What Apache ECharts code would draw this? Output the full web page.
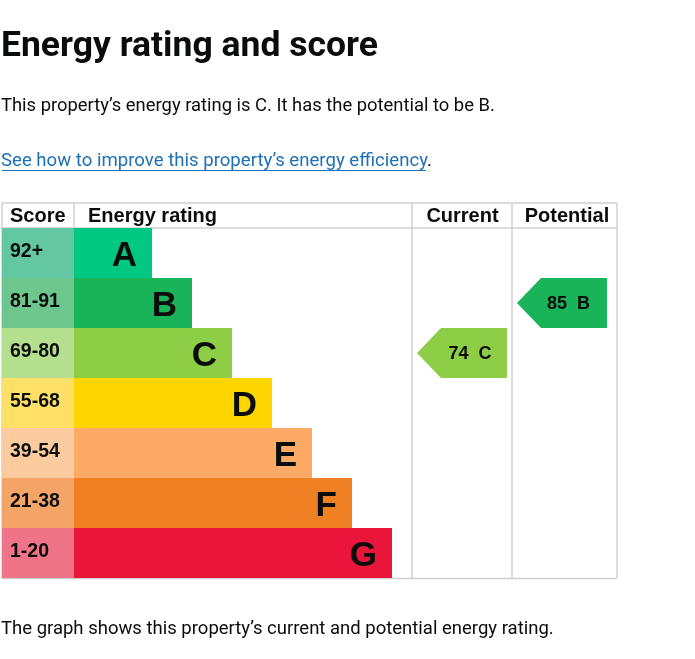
<!DOCTYPE html>
<html><head><meta charset="utf-8">
<script src="https://cdn.jsdelivr.net/npm/echarts@6/dist/echarts.min.js"></script>
<style>html,body{margin:0;padding:0;background:#fff}#c{width:695px;height:659px}</style>
</head><body><div id="c"></div>
<script>
// ---- data ----
const bands = ['A', 'B', 'C', 'D', 'E', 'F', 'G'];
const scoreRanges = ['92+', '81-91', '69-80', '55-68', '39-54', '21-38', '1-20'];
const barLengths = [2, 3, 4, 5, 6, 7, 8];
const currentScore = 74;
const currentBand = 'C';
const potentialScore = 85;
const potentialBand = 'B';
const headers = ['Score', 'Energy rating', 'Current', 'Potential'];

// ---- styles ----
const bandColors = ['#00c781', '#19b459', '#8dce46', '#ffd500', '#fcaa65', '#ef8023', '#e9153b'];
const scoreColors = ['#63c7a3', '#6dc68e', '#b4df8e', '#ffe066', '#fdcba0', '#f4a467', '#f07488'];
const ink = '#0b0c0c';
const linkCol = '#1d70b8';
const lineCol = '#d0d0d0';
const bodyFont = 'Roboto';
const tableFont = '"Liberation Sans", Arial, sans-serif';

const chart = echarts.init(document.getElementById('c'), null, {renderer: 'canvas'});

const gTop = 228, gHeight = 350;
function catY(idx) {
  return {gridIndex: idx, type: 'category', data: bands, inverse: true, show: false};
}
const arrowPath = 'path://M0,25 L24,0 L90,0 L90,50 L24,50 Z';

function line(x1, y1, x2, y2) {
  return {type: 'line', z: 0, shape: {x1, y1, x2, y2}, style: {stroke: lineCol, lineWidth: 1.5}};
}
function txt(x, y, text, font, fill, align) {
  return {type: 'text', z: 10, x, y, style: {text, font, fill: fill || ink, align: align || 'left', verticalAlign: 'middle'}};
}

const option = {
  animation: false,
  backgroundColor: '#fff',
  grid: [
    {left: 2, top: gTop, width: 72, height: gHeight},
    {left: 72, top: gTop, width: 340, height: gHeight},
    {left: 412, top: gTop, width: 100, height: gHeight},
    {left: 512, top: gTop, width: 105, height: gHeight}
  ],
  xAxis: [
    {gridIndex: 0, type: 'value', min: 0, max: 1, show: false},
    {gridIndex: 1, type: 'value', min: 0, max: 8.5, show: false},
    {gridIndex: 2, type: 'category', data: [headers[2]], show: false},
    {gridIndex: 3, type: 'category', data: [headers[3]], show: false}
  ],
  yAxis: [catY(0), catY(1), catY(2), catY(3)],
  series: [
    {
      type: 'bar', xAxisIndex: 0, yAxisIndex: 0, z: 4,
      barWidth: '100%',
      data: scoreRanges.map((r, i) => ({value: 1, itemStyle: {color: scoreColors[i]}})),
      label: {
        show: true, position: 'insideLeft', distance: 8, offset: [0, -1],
        formatter: p => scoreRanges[p.dataIndex],
        fontFamily: tableFont, fontWeight: 'bold', fontSize: 19.5, color: ink
      }
    },
    {
      type: 'bar', xAxisIndex: 1, yAxisIndex: 1, z: 3,
      barWidth: '100%',
      data: barLengths.map((v, i) => ({value: v, itemStyle: {color: bandColors[i]}})),
      label: {
        show: true, position: 'insideRight', distance: 15, offset: [0, 3],
        formatter: p => bands[p.dataIndex],
        fontFamily: tableFont, fontWeight: 'bold', fontSize: 35, color: ink
      }
    },
    {
      type: 'scatter', xAxisIndex: 2, yAxisIndex: 2, z: 5,
      symbol: arrowPath, symbolSize: [90, 50],
      itemStyle: {color: bandColors[bands.indexOf(currentBand)], opacity: 1},
      data: [[headers[2], currentBand]],
      label: {
        show: true, position: 'inside', offset: [8, 1],
        formatter: () => currentScore + '  ' + currentBand,
        fontFamily: tableFont, fontWeight: 'bold', fontSize: 18, color: ink
      }
    },
    {
      type: 'scatter', xAxisIndex: 3, yAxisIndex: 3, z: 5,
      symbol: arrowPath, symbolSize: [90, 50], symbolOffset: [-2.5, 0],
      itemStyle: {color: bandColors[bands.indexOf(potentialBand)], opacity: 1},
      data: [[headers[3], potentialBand]],
      label: {
        show: true, position: 'inside', offset: [6.5, 1],
        formatter: () => potentialScore + '  ' + potentialBand,
        fontFamily: tableFont, fontWeight: 'bold', fontSize: 18, color: ink
      }
    }
  ],
  graphic: [
    line(2, 203, 617, 203),
    line(2, 228, 617, 228),
    line(2, 578.5, 617, 578.5),
    line(2, 203, 2, 578),
    line(74, 203, 74, 228),
    line(412, 203, 412, 578),
    line(512, 203, 512, 578),
    line(617, 203, 617, 578),
    txt(10, 216, headers[0], 'bold 20px ' + tableFont),
    txt(88, 216, headers[1], 'bold 20px ' + tableFont),
    txt(462.5, 216, headers[2], 'bold 20px ' + tableFont, ink, 'center'),
    txt(567, 216, headers[3], 'bold 20px ' + tableFont, ink, 'center'),
    txt(1, 47, 'Energy rating and score', 'bold 35.5px ' + bodyFont),
    txt(1, 106, 'This property\u2019s energy rating is C. It has the potential to be B.', '18.4px ' + bodyFont),
    txt(1, 161, 'See how to improve this property\u2019s energy efficiency', '18.6px ' + bodyFont, linkCol),
    {type: 'line', z: 10, shape: {x1: 2, y1: 170.5, x2: 426, y2: 170.5}, style: {stroke: linkCol, lineWidth: 1.2}},
    txt(427, 161, '.', '18.6px ' + bodyFont),
    txt(1, 629, 'The graph shows this property\u2019s current and potential energy rating.', '18.5px ' + bodyFont)
  ]
};
chart.setOption(option);
</script></body></html>
